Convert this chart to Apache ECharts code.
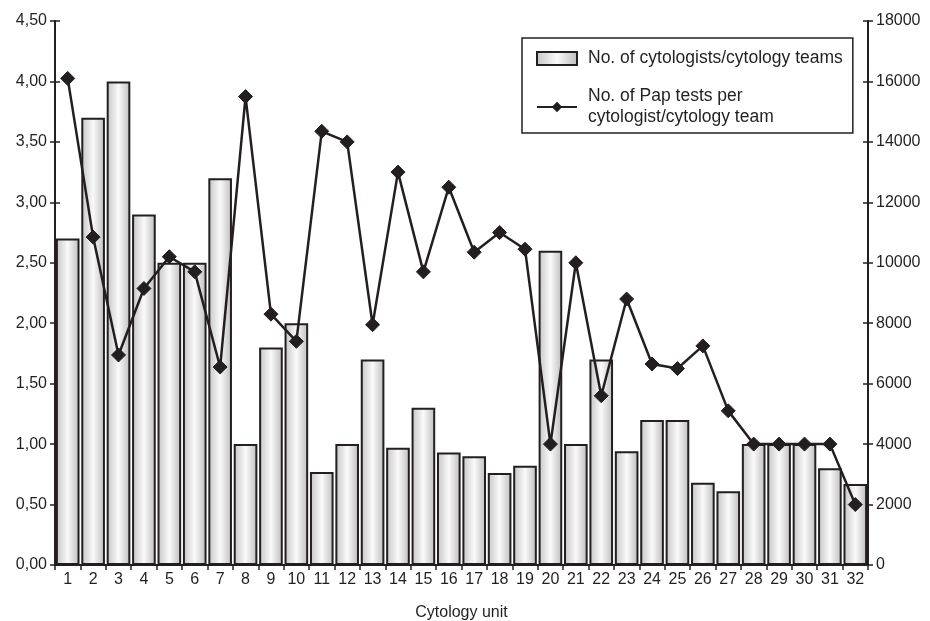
<!DOCTYPE html>
<html>
<head>
<meta charset="utf-8">
<script src="https://cdn.jsdelivr.net/npm/echarts@6/dist/echarts.min.js"></script>
<style>
html,body{margin:0;padding:0;background:#fff;}
#main{width:930px;height:621px;}
</style>
</head>
<body>
<div id="main"></div>
<script>
const categories = ['1','2','3','4','5','6','7','8','9','10','11','12','13','14','15','16','17','18','19','20','21','22','23','24','25','26','27','28','29','30','31','32'];
const cytologists = [2.70,3.70,4.00,2.90,2.50,2.50,3.20,1.00,1.80,2.00,0.77,1.00,1.70,0.97,1.30,0.93,0.90,0.76,0.82,2.60,1.00,1.70,0.94,1.20,1.20,0.68,0.61,1.00,1.00,1.00,0.80,0.67];
const papTests = [16100,10850,6950,9150,10200,9700,6550,15500,8300,7400,14350,14000,7950,13000,9700,12500,10350,11000,10450,4000,10000,5600,8800,6650,6500,7250,5100,4000,4000,4000,4000,2000];
const barName = 'No. of cytologists/cytology teams';
const lineName = 'No. of Pap tests per cytologist/cytology team';
const lineNameDisplay = 'No. of Pap tests per\ncytologist/cytology team';

const ink = '#231f20';
const font = 'Liberation Sans, Arial, sans-serif';
const chart = echarts.init(document.getElementById('main'));
const barGrad = new echarts.graphic.LinearGradient(0,0,1,0,[
  {offset:0,color:'#c4c4c4'},{offset:0.5,color:'#fafafa'},{offset:1,color:'#bcbcbc'}
]);
chart.setOption({
  animation:false,
  backgroundColor:'#fff',
  textStyle:{fontFamily:font,color:ink},
  grid:{left:55,right:62,top:21,bottom:56,containLabel:false,outerBoundsMode:'none'},
  legend:{
    orient:'vertical',left:522,top:38,
    padding:[10,10,5,14],
    borderColor:ink,borderWidth:1.5,borderRadius:0,
    itemWidth:40,itemHeight:13,itemGap:17,
    textStyle:{fontFamily:font,fontSize:17.5,color:ink,lineHeight:21,padding:[0,0,0,6]},
    formatter:function(n){return n===lineName?lineNameDisplay:n;},
    data:[{name:barName,icon:'rect'},{name:lineName}]
  },
  xAxis:{
    type:'category',data:categories,boundaryGap:true,
    name:'Cytology unit',nameLocation:'middle',nameGap:40,
    nameTextStyle:{fontFamily:font,fontSize:16,color:ink},
    axisLine:{lineStyle:{color:ink,width:2}},
    axisTick:{show:true,length:5,lineStyle:{color:ink,width:1.5}},
    axisLabel:{fontFamily:font,fontSize:16,color:ink,margin:7,interval:0}
  },
  yAxis:[
    {type:'value',position:'left',min:0,max:4.5,interval:0.5,
     axisLine:{show:true,lineStyle:{color:ink,width:2}},
     axisTick:{show:true,length:5,lineStyle:{color:ink,width:1.5}},
     axisLabel:{fontFamily:font,fontSize:16,color:ink,margin:8,formatter:function(v){return v.toFixed(2).replace('.',',');}},
     splitLine:{show:false}},
    {type:'value',position:'right',min:0,max:18000,interval:2000,
     axisLine:{show:true,lineStyle:{color:ink,width:2}},
     axisTick:{show:true,length:5,lineStyle:{color:ink,width:1.5}},
     axisLabel:{fontFamily:font,fontSize:16,color:ink,margin:8,formatter:function(v){return String(v);}},
     splitLine:{show:false}},
    {type:'value',position:'left',min:0,max:4.5,interval:0.5,
     axisLine:{show:false},axisLabel:{show:false},splitLine:{show:false},
     axisTick:{show:true,inside:true,length:5,lineStyle:{color:ink,width:1.5}}},
    {type:'value',position:'right',min:0,max:18000,interval:2000,
     axisLine:{show:false},axisLabel:{show:false},splitLine:{show:false},
     axisTick:{show:true,inside:true,length:5,lineStyle:{color:ink,width:1.5}}}
  ],
  series:[
    {name:barName,type:'bar',yAxisIndex:0,data:cytologists,barCategoryGap:'7%',
     itemStyle:{color:barGrad,borderColor:ink,borderWidth:2}},
    {name:lineName,type:'line',yAxisIndex:1,data:papTests,
     symbol:'diamond',symbolSize:[14,14],
     lineStyle:{color:ink,width:2.5},
     itemStyle:{color:ink,borderColor:ink}}
  ]
});
</script>
</body>
</html>
